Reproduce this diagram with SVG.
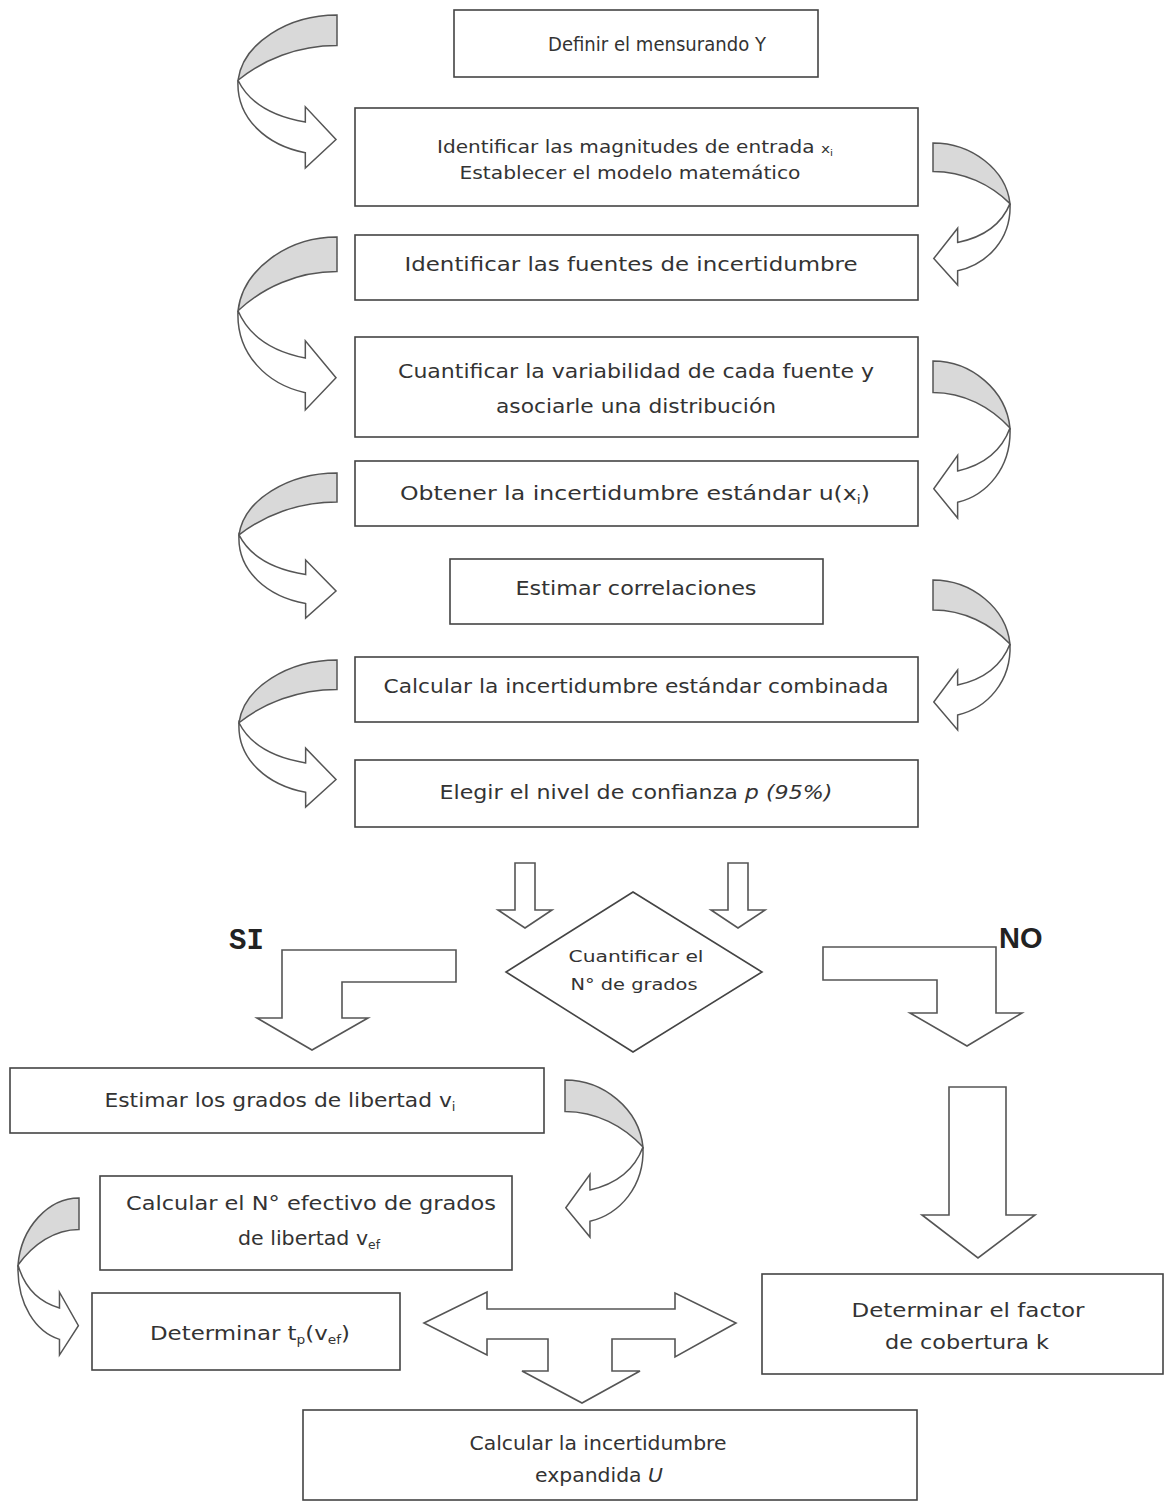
<svg xmlns="http://www.w3.org/2000/svg" xmlns:xlink="http://www.w3.org/1999/xlink" width="1166" height="1507" viewBox="0 0 1166 1507">
<style>
.box{fill:#fff;stroke:#444;stroke-width:1.6}
.t{font-family:"DejaVu Sans","Liberation Sans",sans-serif;font-size:20px;fill:#333;text-anchor:middle}
.s{font-size:17px}
.d{font-size:16px}
.sub{font-size:12px}
.blk{fill:#fff;stroke:#555;stroke-width:1.6;stroke-linejoin:miter}
.cw{fill:#fff;stroke:#555;stroke-width:1.5;vector-effect:non-scaling-stroke}
.cg{fill:#d9d9d9;stroke:#555;stroke-width:1.5;vector-effect:non-scaling-stroke}
.lbl{fill:#222;font-weight:bold}
</style>
<defs>
<g id="curve">
<path class="cw" d="M0,64 C-2,102 30,128 68,135 L68,150 L99,122 L68,90 L68,105 C38,100 12,88 0,64 Z"/>
<path class="cg" d="M100,0 C50,0 5,28 0,64 C25,44 60,30 100,30 Z"/>
</g>
</defs>
<rect width="1166" height="1507" fill="#fff"/>

<g id="connectors">
<use xlink:href="#curve" transform="translate(238,15) scale(0.99,1.02)"/>
<use xlink:href="#curve" transform="translate(1010,143) scale(-0.77,0.947)"/>
<use xlink:href="#curve" transform="translate(238,237) scale(0.99,1.153)"/>
<use xlink:href="#curve" transform="translate(1010,361) scale(-0.77,1.047)"/>
<use xlink:href="#curve" transform="translate(239,473) scale(0.98,0.967)"/>
<use xlink:href="#curve" transform="translate(1010,580) scale(-0.77,1.0)"/>
<use xlink:href="#curve" transform="translate(239,660) scale(0.98,0.98)"/>
<use xlink:href="#curve" transform="translate(643,1080) scale(-0.78,1.047)"/>
<use xlink:href="#curve" transform="translate(18,1198) scale(0.61,1.047)"/>
<path class="blk" d="M515,863 L535,863 L535,910 L552,910 L525,928 L498,910 L515,910 Z"/>
<path class="blk" d="M728,863 L748,863 L748,910 L765,910 L738,928 L711,910 L728,910 Z"/>
<path class="blk" d="M282,950 L456,950 L456,982 L342,982 L342,1018 L368,1018 L312,1050 L257,1018 L282,1018 Z"/>
<path class="blk" d="M823,947 L996,947 L996,1013 L1022,1013 L967,1046 L910,1013 L937,1013 L937,980 L823,980 Z"/>
<path class="blk" d="M949,1087 L1006,1087 L1006,1215 L1035,1215 L978,1258 L922,1215 L949,1215 Z"/>
<path class="blk" d="M424,1323 L487,1292 L487,1309 L675,1309 L675,1293 L736,1323 L675,1357 L675,1339 L612,1339 L612,1371 L640,1371 L582,1403 L522,1371 L548,1371 L548,1339 L487,1339 L487,1355 Z"/>
<text class="lbl" x="229" y="949" style="font-family:'Liberation Mono',monospace;font-size:29px">SI</text>
<text class="lbl" x="999" y="948" style="font-family:'Liberation Sans',sans-serif;font-size:29px">NO</text>
</g>

<g id="n1"><rect class="box" x="454" y="10" width="364" height="67"/>
<text class="t" x="657" y="51" textLength="218" lengthAdjust="spacingAndGlyphs">Definir el mensurando Y</text></g>

<g id="n2"><rect class="box" x="355" y="108" width="563" height="98"/>
<text class="t s" x="635" y="153" textLength="396" lengthAdjust="spacingAndGlyphs">Identificar las magnitudes de entrada <tspan font-size="13">x</tspan><tspan font-size="9" dy="3">i</tspan></text>
<text class="t s" x="630" y="179" textLength="341" lengthAdjust="spacingAndGlyphs">Establecer el modelo matemático</text></g>

<g id="n3"><rect class="box" x="355" y="235" width="563" height="65"/>
<text class="t" x="631" y="271" textLength="453" lengthAdjust="spacingAndGlyphs">Identificar las fuentes de incertidumbre</text></g>

<g id="n4"><rect class="box" x="355" y="337" width="563" height="100"/>
<text class="t" x="636" y="378" textLength="476" lengthAdjust="spacingAndGlyphs">Cuantificar la variabilidad de cada fuente y</text>
<text class="t" x="636" y="413" textLength="280" lengthAdjust="spacingAndGlyphs">asociarle una distribución</text></g>

<g id="n5"><rect class="box" x="355" y="461" width="563" height="65"/>
<text class="t" x="635" y="500" textLength="470" lengthAdjust="spacingAndGlyphs">Obtener la incertidumbre estándar u(x<tspan class="sub" dy="4">i</tspan><tspan dy="-4">)</tspan></text></g>

<g id="n6"><rect class="box" x="450" y="559" width="373" height="65"/>
<text class="t" x="636" y="595" textLength="241" lengthAdjust="spacingAndGlyphs">Estimar correlaciones</text></g>

<g id="n7"><rect class="box" x="355" y="657" width="563" height="65"/>
<text class="t" x="636" y="693" textLength="505" lengthAdjust="spacingAndGlyphs">Calcular la incertidumbre estándar combinada</text></g>

<g id="n8"><rect class="box" x="355" y="760" width="563" height="67"/>
<text class="t" x="636" y="799" textLength="393" lengthAdjust="spacingAndGlyphs">Elegir el nivel de confianza <tspan font-style="italic">p (95%)</tspan></text></g>

<g id="n9"><path class="box" d="M633,892 L762,972 L633,1052 L506,972 Z"/>
<text class="t d" x="636" y="962" textLength="135" lengthAdjust="spacingAndGlyphs">Cuantificar el</text>
<text class="t d" x="634" y="990" textLength="127" lengthAdjust="spacingAndGlyphs">N° de grados</text></g>

<g id="n10"><rect class="box" x="10" y="1068" width="534" height="65"/>
<text class="t" x="280" y="1107" textLength="351" lengthAdjust="spacingAndGlyphs">Estimar los grados de libertad v<tspan class="sub" dy="4">i</tspan></text></g>

<g id="n11"><rect class="box" x="100" y="1176" width="412" height="94"/>
<text class="t" x="311" y="1210" textLength="370" lengthAdjust="spacingAndGlyphs">Calcular el N° efectivo de grados</text>
<text class="t" x="309" y="1245" textLength="142" lengthAdjust="spacingAndGlyphs">de libertad v<tspan class="sub" dy="4">ef</tspan></text></g>

<g id="n12"><rect class="box" x="92" y="1293" width="308" height="77"/>
<text class="t" x="250" y="1340" textLength="200" lengthAdjust="spacingAndGlyphs">Determinar t<tspan class="sub" dy="4">p</tspan><tspan dy="-4">(v</tspan><tspan class="sub" dy="4">ef</tspan><tspan dy="-4">)</tspan></text></g>

<g id="n13"><rect class="box" x="762" y="1274" width="401" height="100"/>
<text class="t" x="968" y="1317" textLength="233" lengthAdjust="spacingAndGlyphs">Determinar el factor</text>
<text class="t" x="967" y="1349" textLength="164" lengthAdjust="spacingAndGlyphs">de cobertura k</text></g>

<g id="n14"><rect class="box" x="303" y="1410" width="614" height="90"/>
<text class="t" x="598" y="1450" textLength="257" lengthAdjust="spacingAndGlyphs">Calcular la incertidumbre</text>
<text class="t" x="599" y="1482" textLength="128" lengthAdjust="spacingAndGlyphs">expandida <tspan font-style="italic">U</tspan></text></g>
</svg>
